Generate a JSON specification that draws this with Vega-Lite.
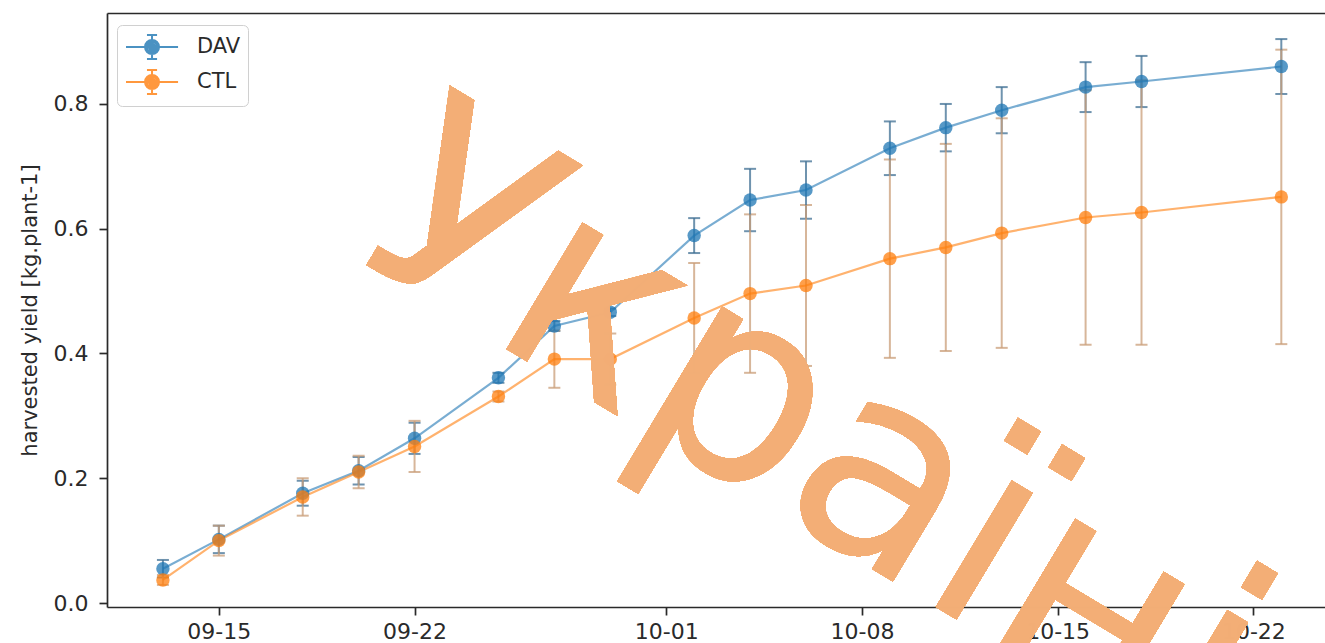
{
  "$schema": "https://vega.github.io/schema/vega-lite/v6.json",
  "width": 1218,
  "height": 594,
  "autosize": {"type": "none"},
  "padding": {"left": 107, "top": 13, "right": 0, "bottom": 36},
  "config": {
    "view": {"stroke": null},
    "font": "DejaVu Sans",
    "axis": {
      "grid": false,
      "domainColor": "#2a2a2a",
      "domainWidth": 1.7,
      "tickColor": "#2a2a2a",
      "tickWidth": 1.7,
      "tickSize": 8,
      "labelPadding": 6,
      "labelFontSize": 22,
      "labelColor": "#2a2a2a",
      "titleFontSize": 21,
      "titleFontWeight": "normal",
      "titleColor": "#2a2a2a"
    }
  },
  "data": {
    "values": [
      {"date": "2020-09-13T00:00:00", "series": "DAV", "yield": 0.055, "err": 0.014},
      {"date": "2020-09-15T00:00:00", "series": "DAV", "yield": 0.102, "err": 0.022},
      {"date": "2020-09-18T00:00:00", "series": "DAV", "yield": 0.176, "err": 0.02},
      {"date": "2020-09-20T00:00:00", "series": "DAV", "yield": 0.212, "err": 0.022},
      {"date": "2020-09-22T00:00:00", "series": "DAV", "yield": 0.264, "err": 0.025},
      {"date": "2020-09-25T00:00:00", "series": "DAV", "yield": 0.361, "err": 0.008},
      {"date": "2020-09-27T00:00:00", "series": "DAV", "yield": 0.444, "err": 0.008},
      {"date": "2020-09-29T00:00:00", "series": "DAV", "yield": 0.466, "err": 0.006},
      {"date": "2020-10-02T00:00:00", "series": "DAV", "yield": 0.589, "err": 0.028},
      {"date": "2020-10-04T00:00:00", "series": "DAV", "yield": 0.646, "err": 0.05},
      {"date": "2020-10-06T00:00:00", "series": "DAV", "yield": 0.662, "err": 0.046},
      {"date": "2020-10-09T00:00:00", "series": "DAV", "yield": 0.729, "err": 0.043},
      {"date": "2020-10-11T00:00:00", "series": "DAV", "yield": 0.762, "err": 0.038},
      {"date": "2020-10-13T00:00:00", "series": "DAV", "yield": 0.79, "err": 0.037},
      {"date": "2020-10-16T00:00:00", "series": "DAV", "yield": 0.827, "err": 0.04},
      {"date": "2020-10-18T00:00:00", "series": "DAV", "yield": 0.836, "err": 0.041},
      {"date": "2020-10-23T00:00:00", "series": "DAV", "yield": 0.86, "err": 0.044},
      {"date": "2020-09-13T00:00:00", "series": "CTL", "yield": 0.037, "err": 0.008},
      {"date": "2020-09-15T00:00:00", "series": "CTL", "yield": 0.1, "err": 0.024},
      {"date": "2020-09-18T00:00:00", "series": "CTL", "yield": 0.17, "err": 0.03},
      {"date": "2020-09-20T00:00:00", "series": "CTL", "yield": 0.21, "err": 0.026},
      {"date": "2020-09-22T00:00:00", "series": "CTL", "yield": 0.251, "err": 0.041},
      {"date": "2020-09-25T00:00:00", "series": "CTL", "yield": 0.331, "err": 0.008},
      {"date": "2020-09-27T00:00:00", "series": "CTL", "yield": 0.391, "err": 0.046},
      {"date": "2020-09-29T00:00:00", "series": "CTL", "yield": 0.391, "err": 0.041},
      {"date": "2020-10-02T00:00:00", "series": "CTL", "yield": 0.457, "err": 0.088},
      {"date": "2020-10-04T00:00:00", "series": "CTL", "yield": 0.496, "err": 0.127},
      {"date": "2020-10-06T00:00:00", "series": "CTL", "yield": 0.509, "err": 0.129},
      {"date": "2020-10-09T00:00:00", "series": "CTL", "yield": 0.552, "err": 0.159},
      {"date": "2020-10-11T00:00:00", "series": "CTL", "yield": 0.57, "err": 0.166},
      {"date": "2020-10-13T00:00:00", "series": "CTL", "yield": 0.593, "err": 0.184},
      {"date": "2020-10-16T00:00:00", "series": "CTL", "yield": 0.618, "err": 0.204},
      {"date": "2020-10-18T00:00:00", "series": "CTL", "yield": 0.626, "err": 0.212},
      {"date": "2020-10-23T00:00:00", "series": "CTL", "yield": 0.651, "err": 0.236}
    ]
  },
  "encoding": {
    "x": {
      "field": "date",
      "type": "temporal",
      "scale": {
        "domain": [
          {"year": 2020, "month": 9, "date": 11},
          {"year": 2020, "month": 10, "date": 24, "hours": 13, "minutes": 30}
        ],
        "nice": false
      }
    },
    "y": {
      "field": "yield",
      "type": "quantitative",
      "scale": {"domain": [-0.0064, 0.9458], "nice": false, "zero": false}
    }
  },
  "layer": [
    {
      "mark": {"type": "errorbar", "ticks": {"size": 12}, "thickness": 2, "opacity": 0.75},
      "encoding": {
        "x": {
          "field": "date",
          "type": "temporal",
          "axis": {
            "orient": "bottom",
            "title": null,
            "format": "%m-%d",
            "values": [
              {"year": 2020, "month": 9, "date": 15},
              {"year": 2020, "month": 9, "date": 22},
              {"year": 2020, "month": 10, "date": 1},
              {"year": 2020, "month": 10, "date": 8},
              {"year": 2020, "month": 10, "date": 15},
              {"year": 2020, "month": 10, "date": 22}
            ]
          }
        },
        "y": {
          "field": "yield",
          "type": "quantitative",
          "axis": {
            "title": "harvested yield [kg.plant-1]",
            "values": [0, 0.2, 0.4, 0.6, 0.8],
            "format": ".1f",
            "labelPadding": 11,
            "titlePadding": 13
          }
        },
        "yError": {"field": "err"},
        "color": {
          "field": "series",
          "type": "nominal",
          "scale": {"domain": ["DAV", "CTL"], "range": ["#3f6f93", "#c99d78"]},
          "legend": null
        }
      }
    },
    {
      "mark": {"type": "line", "strokeWidth": 2.2, "opacity": 0.6},
      "encoding": {
        "x": {
          "field": "date",
          "type": "temporal",
          "axis": {"orient": "top", "title": null, "labels": false, "ticks": false, "domain": true}
        },
        "color": {
          "field": "series",
          "type": "nominal",
          "scale": {"domain": ["DAV", "CTL"], "range": ["#1f77b4", "#ff7f0e"]},
          "legend": {
            "title": null,
            "orient": "none",
            "legendX": 10,
            "legendY": 12,
            "symbolType": "M-0.93,0H2.79M0.93,-0.86V0.86M0.57,-0.86H1.29M0.57,0.86H1.29M0.43,0A0.5,0.5 0 1,0 1.43,0A0.5,0.5 0 1,0 0.43,0M0.57,0A0.36,0.36 0 1,0 1.29,0A0.36,0.36 0 1,0 0.57,0M0.71,0A0.22,0.22 0 1,0 1.15,0A0.22,0.22 0 1,0 0.71,0M0.85,0A0.08,0.08 0 1,0 1.01,0A0.08,0.08 0 1,0 0.85,0",
            "symbolSize": 784,
            "symbolStrokeWidth": 2,
            "symbolOpacity": 0.8,
            "labelFontSize": 21,
            "labelColor": "#2a2a2a",
            "labelOffset": 43,
            "rowPadding": 1,
            "padding": 7,
            "strokeColor": "#d0d0d0",
            "cornerRadius": 5,
            "fillColor": "white"
          }
        }
      }
    },
    {
      "mark": {"type": "point", "filled": true, "size": 180, "opacity": 0.75},
      "encoding": {
        "x": {"field": "date", "type": "temporal", "axis": null},
        "color": {
          "field": "series",
          "type": "nominal",
          "scale": {"domain": ["DAV", "CTL"], "range": ["#1f77b4", "#ff7f0e"]},
          "legend": null
        }
      }
    },
    {
      "mark": {
        "type": "text",
        "text": "Україні",
        "font": "DejaVu Sans",
        "fontSize": 270,
        "angle": 31,
        "align": "left",
        "baseline": "alphabetic",
        "color": "#f3ae76",
        "opacity": 0.9
      },
      "encoding": {
        "x": {"datum": {"year": 2020, "month": 9, "date": 19, "hours": 11, "minutes": 45}, "type": "temporal", "axis": null},
        "y": {"datum": 0.563, "type": "quantitative"}
      }
    }
  ],
  "resolve": {"axis": {"x": "independent"}, "scale": {"color": "independent"}}
}
